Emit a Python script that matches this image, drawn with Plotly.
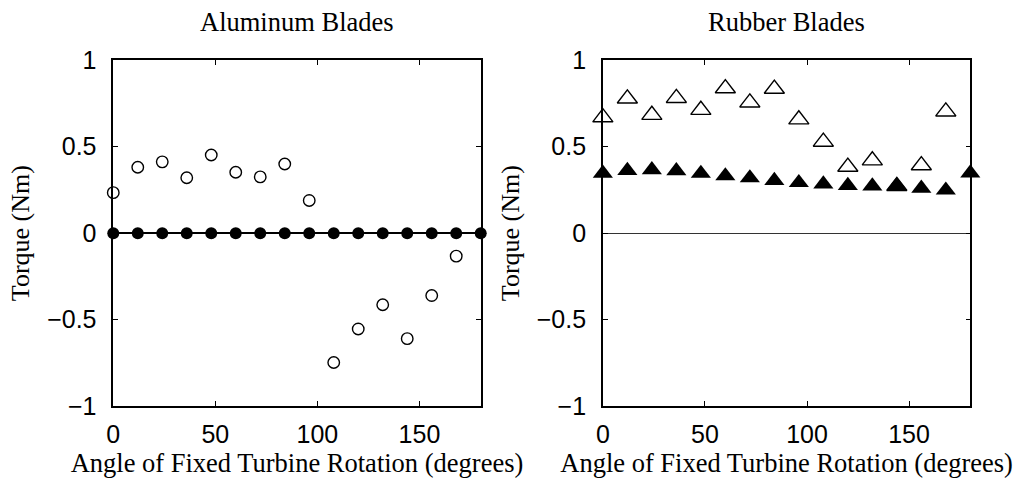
import plotly.graph_objects as go

# ---- data ----
angles_open = [0, 12, 24, 36, 48, 60, 72, 84, 96, 108, 120, 132, 144, 156, 168]
angles_full = [0, 12, 24, 36, 48, 60, 72, 84, 96, 108, 120, 132, 144, 156, 168, 180]

alu_open = [0.234, 0.381, 0.412, 0.320, 0.452, 0.352, 0.325, 0.400, 0.189,
            -0.748, -0.554, -0.414, -0.610, -0.361, -0.133]
alu_filled = [0, 0, 0, 0, 0, 0, 0, 0, 0, 0, 0, 0, 0, 0, 0, 0]

rub_open = [0.669, 0.778, 0.683, 0.781, 0.712, 0.837, 0.755, 0.834, 0.657,
            0.528, 0.383, 0.420, 0.272, 0.392, 0.703]
rub_filled = [0.346, 0.362, 0.366, 0.360, 0.345, 0.331, 0.319, 0.304, 0.292,
              0.284, 0.275, 0.272, 0.274, 0.259, 0.248, 0.347]

titles = ["Aluminum Blades", "Rubber Blades"]
x_title = "Angle of Fixed Turbine Rotation (degrees)"
y_title = "Torque (Nm)"
x_ticks = [0, 50, 100, 150]
y_ticks = [-1, -0.5, 0, 0.5, 1]

W, H = 1016, 487
serif = "Liberation Serif, Times New Roman, serif"
sans = "Liberation Sans, Arial, Helvetica, sans-serif"

fig = go.Figure()

fig.add_trace(go.Scatter(x=angles_open, y=alu_open, mode="markers", xaxis="x", yaxis="y",
                         marker=dict(symbol="circle-open", size=11.5, color="black", line=dict(width=1.4)),
                         cliponaxis=False, showlegend=False))
fig.add_trace(go.Scatter(x=angles_full, y=alu_filled, mode="markers", xaxis="x", yaxis="y",
                         marker=dict(symbol="circle", size=12, color="black"),
                         cliponaxis=False, showlegend=False))
fig.add_trace(go.Scatter(x=angles_open, y=rub_open, mode="markers", xaxis="x2", yaxis="y2",
                         marker=dict(symbol="triangle-up-open", size=17.5, color="black", line=dict(width=1.4)),
                         cliponaxis=False, showlegend=False))
fig.add_trace(go.Scatter(x=angles_full, y=rub_filled, mode="markers", xaxis="x2", yaxis="y2",
                         marker=dict(symbol="triangle-up", size=17.5, color="black"),
                         cliponaxis=False, showlegend=False))

xd1 = [107 / W, 477 / W]
xd2 = [600 / W, 970 / W]
yd = [71 / H, 438 / H]

def xax(domain, anchor):
    return dict(domain=domain, anchor=anchor, range=[0, 180], tickvals=x_ticks,
                ticks="inside", ticklen=5, tickwidth=1, tickcolor="black",
                showline=True, linewidth=1.5, linecolor="black", mirror="ticks",
                showgrid=False, zeroline=False,
                tickfont=dict(family=sans, size=25, color="black"),
                ticklabelstandoff=5,
                title=dict(text=x_title, font=dict(family=serif, size=26.5, color="black"), standoff=2))

def yax(anchor, zw, zc):
    return dict(domain=yd, anchor=anchor, range=[-1, 1], tickvals=y_ticks,
                ticks="inside", ticklen=5, tickwidth=1, tickcolor="black",
                showline=True, linewidth=1.5, linecolor="black", mirror="ticks",
                showgrid=False, zeroline=True, zerolinecolor=zc, zerolinewidth=zw,
                tickfont=dict(family=sans, size=25, color="black"),
                ticklabelstandoff=10,
                title=dict(text=y_title, font=dict(family=serif, size=26, color="black"), standoff=10))

fig.update_layout(
    width=W, height=H,
    margin=dict(l=0, r=0, t=0, b=0),
    paper_bgcolor="white", plot_bgcolor="white",
    xaxis=xax(xd1, "y"), yaxis=yax("x", 2, "black"),
    xaxis2=xax(xd2, "y2"), yaxis2=yax("x2", 1, "#333333"),
    annotations=[
        dict(text=titles[0], x=sum(xd1) / 2, y=1 - 8 / H, xref="paper", yref="paper",
             showarrow=False, xanchor="center", yanchor="middle",
             font=dict(family=serif, size=26.5, color="black")),
        dict(text=titles[1], x=sum(xd2) / 2, y=1 - 8 / H, xref="paper", yref="paper",
             showarrow=False, xanchor="center", yanchor="middle",
             font=dict(family=serif, size=26.5, color="black")),
    ],
)

fig.write_html("out.html")
